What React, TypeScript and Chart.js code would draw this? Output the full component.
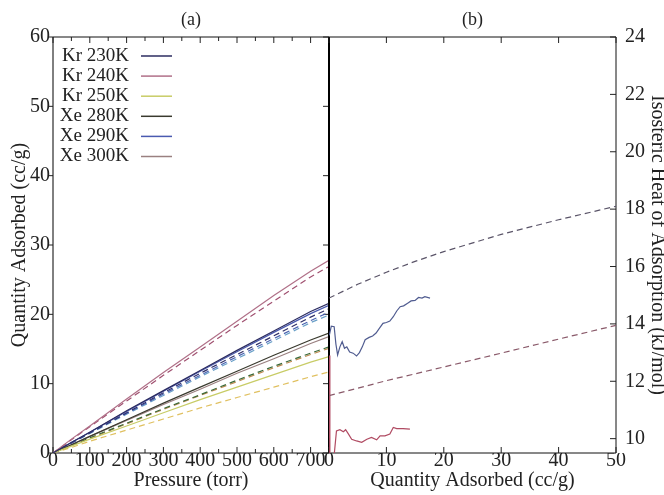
import React, { useEffect, useRef } from 'react';
import { Chart, registerables } from 'chart.js';

Chart.register(...registerables);

const FONT = "'Liberation Serif', 'DejaVu Serif', 'Times New Roman', serif";

// ---------- Panel (a): isotherms ----------
const PRESSURE = [0, 50, 100, 200, 300, 400, 500, 600, 700, 750];

const KR230_EXP = [0, 1.5, 3.0, 6.1, 9.0, 11.9, 14.8, 17.6, 20.4, 21.6];
const KR240_EXP = [0, 2.0, 3.9, 7.8, 11.6, 15.3, 19.0, 22.7, 26.2, 27.8];
const KR250_EXP = [0, 1.0, 2.0, 3.9, 5.8, 7.7, 9.5, 11.3, 13.1, 13.9];
const XE280_EXP = [0, 1.2, 2.4, 4.8, 7.2, 9.5, 11.8, 14.1, 16.3, 17.3];
const XE290_EXP = [0, 1.5, 3.0, 6.0, 8.9, 11.8, 14.6, 17.4, 20.1, 21.3];
const XE300_EXP = [0, 1.2, 2.4, 4.7, 7.0, 9.2, 11.5, 13.6, 15.8, 16.8];

const KR240_FIT = [0, 1.9, 3.8, 7.5, 11.2, 14.8, 18.4, 21.9, 25.4, 26.9];
const KR230_FIT = [0, 1.5, 2.9, 5.8, 8.7, 11.5, 14.2, 16.9, 19.6, 20.8];
const XE290_FIT = [0, 1.4, 2.9, 5.7, 8.5, 11.2, 13.9, 16.5, 19.1, 20.3];
const XE290_FIT_B = [0, 1.4, 2.8, 5.6, 8.3, 11.0, 13.6, 16.2, 18.8, 19.9];
const XE280_FIT = [0, 1.1, 2.2, 4.3, 6.4, 8.4, 10.5, 12.5, 14.4, 15.3];
const XE300_FIT = [0, 1.1, 2.1, 4.2, 6.3, 8.3, 10.3, 12.3, 14.2, 15.1];
const KR250_FIT = [0, 0.8, 1.7, 3.3, 4.9, 6.5, 8.0, 9.5, 11.0, 11.7];

// ---------- Panel (b): isosteric heat ----------
const XE_Q_X = [0.05, 0.4, 0.9, 1.2, 1.5, 1.9, 2.3, 2.7, 3.1, 3.6, 4.2, 4.8, 5.3, 5.8, 6.3, 7.0, 7.6, 8.2, 8.8, 9.4, 10.0, 10.6, 11.2, 11.8, 12.4, 13.0, 13.7, 14.3, 15.0, 15.6, 16.2, 16.7, 17.6];
const XE_Q_Y = [13.6, 13.92, 13.9, 13.3, 12.92, 13.2, 13.38, 13.15, 13.2, 13.02, 12.98, 12.88, 13.0, 13.2, 13.45, 13.53, 13.58, 13.68, 13.85, 14.02, 14.05, 14.1, 14.25, 14.45, 14.6, 14.63, 14.72, 14.8, 14.82, 14.92, 14.9, 14.95, 14.9];

const KR_Q_X = [0, 0.15, 0.7, 1.3, 1.9, 2.5, 2.9, 3.4, 3.95, 4.8, 5.7, 6.6, 7.4, 8.3, 8.9, 9.75, 10.6, 11.2, 11.8, 12.9, 14.1];
const KR_Q_Y = [12.9, 9.0, 9.0, 10.27, 10.31, 10.24, 10.31, 10.16, 9.98, 9.92, 9.87, 9.98, 10.04, 9.96, 10.1, 10.1, 10.16, 10.39, 10.35, 10.35, 10.33];

const XE_FIT_X = [0, 5, 10, 15, 20, 30, 40, 50];
const XE_FIT_Y = [14.9, 15.38, 15.8, 16.18, 16.52, 17.12, 17.63, 18.1];

const KR_FIT_X = [0, 10, 20, 30, 40, 50];
const KR_FIT_Y = [11.5, 12.02, 12.5, 12.98, 13.47, 13.95];

const LEGEND_LABELS = ['Kr 230K', 'Kr 240K', 'Kr 250K', 'Xe 280K', 'Xe 290K', 'Xe 300K'];

const pts = (xs: number[], ys: number[]) => xs.map((x, i) => ({ x, y: ys[i] }));

const framePlugin = {
  id: 'frame',
  beforeDatasetsDraw(chart: any, _a: any, opts: any) {
    const { ctx, chartArea } = chart;
    const { left, right, top, bottom } = chartArea;
    const xs = chart.scales.x;
    const ys = chart.scales.y;
    ctx.save();
    ctx.strokeStyle = '#111';
    ctx.lineWidth = 1;
    ctx.beginPath();
    ctx.moveTo(left, top); ctx.lineTo(right, top);
    ctx.moveTo(left, bottom); ctx.lineTo(right, bottom);
    ctx.moveTo(right, top); ctx.lineTo(right, bottom);
    ctx.stroke();
    ctx.strokeStyle = '#000';
    ctx.lineWidth = opts.leftWidth || 1;
    ctx.beginPath(); ctx.moveTo(left, top); ctx.lineTo(left, bottom); ctx.stroke();
    ctx.strokeStyle = '#222';
    ctx.lineWidth = 1;
    ctx.beginPath();
    const L = 6;
    xs.ticks.forEach((t: any) => {
      const p = xs.getPixelForValue(t.value);
      ctx.moveTo(p, bottom); ctx.lineTo(p, bottom - L);
      ctx.moveTo(p, top); ctx.lineTo(p, top + L);
      if (opts.xMinor) {
        const mv = t.value + opts.xMinor;
        if (mv < xs.max) {
          const q = xs.getPixelForValue(mv);
          ctx.moveTo(q, bottom); ctx.lineTo(q, bottom - 4);
          ctx.moveTo(q, top); ctx.lineTo(q, top + 4);
        }
      }
    });
    ys.ticks.forEach((t: any) => {
      const p = ys.getPixelForValue(t.value);
      if (opts.yLeft === 'out') { ctx.moveTo(left, p); ctx.lineTo(left - 4, p); }
      if (opts.yRight === 'in') { ctx.moveTo(right, p); ctx.lineTo(right - L, p); }
    });
    ctx.stroke();
    ctx.restore();
  },
};

const legendPlugin = {
  id: 'insideLegend',
  afterDatasetsDraw(chart: any, _a: any, opts: any) {
    if (!opts || !opts.display) return;
    const { ctx } = chart;
    ctx.save();
    ctx.font = `19px ${FONT}`;
    ctx.textAlign = 'right';
    ctx.textBaseline = 'middle';
    const items = chart.data.datasets.filter((d: any) => d.label);
    items.forEach((d: any, i: number) => {
      const y = opts.y + i * opts.spacing;
      ctx.fillStyle = '#222';
      ctx.fillText(d.label, opts.textRight, y);
      ctx.strokeStyle = d.borderColor;
      ctx.lineWidth = 1.5;
      ctx.setLineDash([]);
      ctx.beginPath(); ctx.moveTo(opts.lineX0, y); ctx.lineTo(opts.lineX1, y); ctx.stroke();
    });
    ctx.restore();
  },
};

const solid = (label: string, ys: number[], color: string) => ({
  label, data: pts(PRESSURE, ys), borderColor: color, borderWidth: 1.2, pointRadius: 0, tension: 0,
});
const dashed = (ys: number[], color: string) => ({
  data: pts(PRESSURE, ys), borderColor: color, borderWidth: 1.2, borderDash: [6, 4], pointRadius: 0, tension: 0,
});

const tickFont = { family: FONT, size: 20, lineHeight: 0.8 };

function leftConfig(): any {
  return {
    type: 'line',
    data: {
      datasets: [
        solid(LEGEND_LABELS[0], KR230_EXP, '#2c2c60'),
        solid(LEGEND_LABELS[1], KR240_EXP, '#b07088'),
        solid(LEGEND_LABELS[2], KR250_EXP, '#c8cc66'),
        solid(LEGEND_LABELS[3], XE280_EXP, '#3a3a2e'),
        solid(LEGEND_LABELS[4], XE290_EXP, '#4a5ab0'),
        solid(LEGEND_LABELS[5], XE300_EXP, '#9a8080'),
        dashed(KR240_FIT, '#a05070'),
        dashed(KR230_FIT, '#303068'),
        dashed(XE290_FIT, '#4a62b0'),
        dashed(XE290_FIT_B, '#6aa0c8'),
        dashed(XE280_FIT, '#3a6a3a'),
        dashed(XE300_FIT, '#c08a50'),
        dashed(KR250_FIT, '#e0c060'),
      ],
    },
    options: {
      animation: false,
      responsive: false,
      maintainAspectRatio: false,
      layout: { padding: { left: 0, right: 11, top: 0, bottom: 0 } },
      plugins: {
        legend: { display: false },
        tooltip: { enabled: false },
        title: {
          display: true, text: '(a)', fullSize: false, color: '#222',
          font: { family: FONT, size: 18, weight: 'normal', lineHeight: 1.2 },
          padding: { top: 9, bottom: 6.4 },
        },
        frame: { xMinor: 50, yLeft: 'out', yRight: 'in' },
        insideLegend: { display: true, y: 56, spacing: 20.1, textRight: 129, lineX0: 141, lineX1: 172 },
      },
      scales: {
        x: {
          type: 'linear', min: 0, max: 750,
          grid: { display: false, drawTicks: false }, border: { display: false },
          ticks: { stepSize: 100, includeBounds: false, autoSkip: false, maxRotation: 0, padding: 0, color: '#222', font: tickFont },
          title: { display: true, text: 'Pressure (torr)', color: '#222', font: { family: FONT, size: 20, lineHeight: 1.2 }, padding: { top: 0, bottom: 2 } },
          afterFit: (s: any) => { s.height = 42; },
        },
        y: {
          type: 'linear', min: 0, max: 60,
          grid: { display: false, drawTicks: false }, border: { display: false },
          ticks: { stepSize: 10, padding: 3, color: '#222', font: tickFont },
          title: { display: true, text: 'Quantity Adsorbed (cc/g)', color: '#222', font: { family: FONT, size: 20, lineHeight: 1.2 }, padding: { top: 7.5, bottom: 0 } },
          afterFit: (s: any) => { s.width = 53; },
        },
      },
    },
    plugins: [framePlugin, legendPlugin],
  };
}

function rightConfig(): any {
  const line = (data: any[], color: string, dash?: number[]) => ({
    data, borderColor: color, borderWidth: 1.2, borderDash: dash || [], pointRadius: 0, tension: 0,
  });
  return {
    type: 'line',
    data: {
      datasets: [
        line(pts(XE_FIT_X, XE_FIT_Y), '#5a5468', [6, 4]),
        line(pts(KR_FIT_X, KR_FIT_Y), '#8a5a6a', [6, 4]),
        line(pts(XE_Q_X, XE_Q_Y), '#505c90'),
        line(pts(KR_Q_X, KR_Q_Y), '#b04a62'),
      ],
    },
    options: {
      animation: false,
      responsive: false,
      maintainAspectRatio: false,
      layout: { padding: { left: 29, right: 0, top: 0, bottom: 0 } },
      plugins: {
        legend: { display: false },
        tooltip: { enabled: false },
        title: {
          display: true, text: '(b)', fullSize: false, color: '#222',
          font: { family: FONT, size: 18, weight: 'normal', lineHeight: 1.2 },
          padding: { top: 9, bottom: 6.4 },
        },
        frame: { leftWidth: 2, yRight: 'in' },
      },
      scales: {
        x: {
          type: 'linear', min: 0, max: 50,
          grid: { display: false, drawTicks: false }, border: { display: false },
          ticks: { stepSize: 10, autoSkip: false, maxRotation: 0, padding: 0, color: '#222', font: tickFont },
          title: { display: true, text: 'Quantity Adsorbed (cc/g)', color: '#222', font: { family: FONT, size: 20, lineHeight: 1.2 }, padding: { top: 0, bottom: 2 } },
          afterFit: (s: any) => { s.height = 42; },
        },
        y: {
          type: 'linear', position: 'right', min: 9.5, max: 24,
          grid: { display: false, drawTicks: false }, border: { display: false },
          ticks: { stepSize: 2, includeBounds: false, padding: 9, color: '#222', font: tickFont },
          title: { display: true, text: 'Isosteric Heat of Adsorption (kJ/mol)', color: '#222', font: { family: FONT, size: 20, lineHeight: 0.7 }, padding: { top: 0, bottom: 0 } },
          afterFit: (s: any) => { s.width = 48; },
        },
      },
    },
    plugins: [framePlugin],
  };
}

export default function App() {
  const leftRef = useRef<HTMLCanvasElement>(null);
  const rightRef = useRef<HTMLCanvasElement>(null);
  useEffect(() => {
    const a = new Chart(leftRef.current as HTMLCanvasElement, leftConfig());
    const b = new Chart(rightRef.current as HTMLCanvasElement, rightConfig());
    return () => { a.destroy(); b.destroy(); };
  }, []);
  return (
    <div style={{ position: 'fixed', left: 0, top: 0, width: 664, height: 495, background: '#fff', overflow: 'hidden' }}>
      <canvas ref={leftRef} width={340} height={495} style={{ position: 'absolute', left: 0, top: 0, width: 340, height: 495 }} />
      <canvas ref={rightRef} width={364} height={495} style={{ position: 'absolute', left: 300, top: 0, width: 364, height: 495 }} />
    </div>
  );
}
